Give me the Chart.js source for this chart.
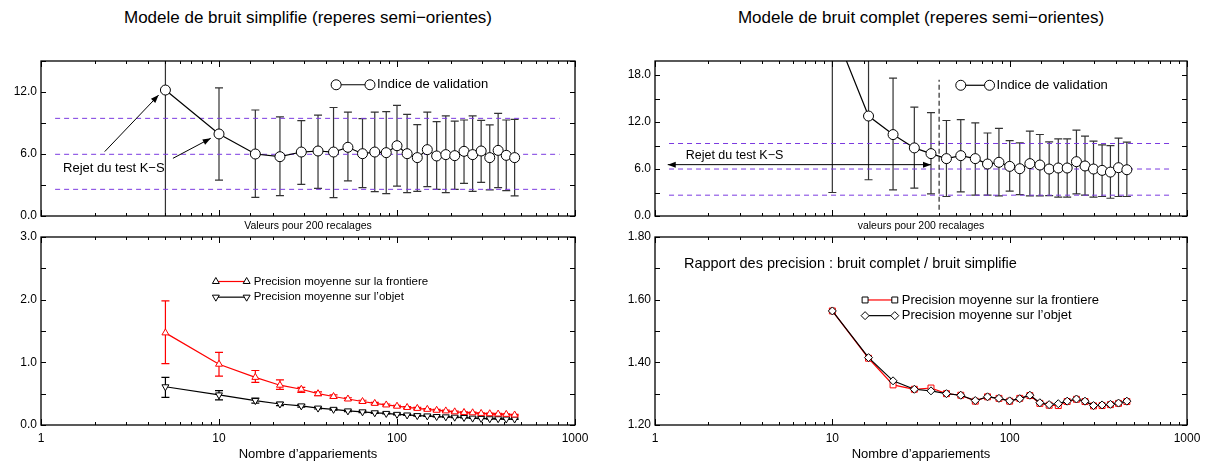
<!DOCTYPE html>
<html>
<head>
<meta charset="utf-8">
<script src="https://cdn.jsdelivr.net/npm/chart.js@4.4.1/dist/chart.umd.min.js"></script>
<style>
  body { margin: 0; background: #fff; width: 1211px; height: 465px; position: relative; overflow: hidden;
         font-family: "Liberation Sans", Arial, sans-serif; }
  .title { position: absolute; top: 9px; line-height: 18px; font-size: 17px; color: #000; text-align: center; white-space: nowrap; }
  canvas { position: absolute; }
</style>
</head>
<body>
<div class="title" style="left:41px;width:534px">Modele de bruit simplifie (reperes semi−orientes)</div>
<div class="title" style="left:655px;width:532px">Modele de bruit complet (reperes semi−orientes)</div>
<canvas id="tl" width="600" height="200" style="left:0;top:40px"></canvas>
<canvas id="tr" width="611" height="200" style="left:600px;top:40px"></canvas>
<canvas id="bl" width="600" height="240" style="left:0;top:225px"></canvas>
<canvas id="br" width="611" height="240" style="left:600px;top:225px"></canvas>
<script>
'use strict';

// x values (nombre d'appariements)
const nSimple  = [5, 10, 16, 22, 29, 36, 44, 53, 64, 75, 87, 100, 114, 130, 148, 167, 188, 211, 238, 266, 297, 332, 370, 411, 458];
const nComplet = [10, 16, 22, 29, 36, 44, 53, 64, 75, 87, 100, 114, 130, 148, 167, 188, 211, 238, 266, 297, 332, 370, 411, 458];

// Indice de validation, bruit simplifie
const validSimple   = [12.19, 7.94, 6.0, 5.74, 6.19, 6.29, 6.19, 6.65, 6.03, 6.19, 6.13, 6.8, 6.03, 5.65, 6.42, 5.81, 5.94, 5.84, 6.26, 5.94, 6.29, 5.65, 6.35, 5.87, 5.65];
const validSimpleLo = [-1, 3.48, 1.8, 1.97, 3.06, 2.68, 1.77, 3.39, 2.74, 2.35, 2.16, 2.9, 2.26, 2.39, 2.84, 2.58, 2.26, 2.58, 3.16, 2.39, 3.26, 2.52, 2.74, 2.45, 1.94];
const validSimpleHi = [16, 12.4, 10.26, 9.6, 9.23, 9.77, 10.5, 10.06, 9.42, 10.06, 10.1, 10.7, 9.84, 8.84, 10.06, 9.13, 9.68, 9.19, 9.29, 9.68, 9.26, 8.81, 9.94, 9.29, 9.35];
const refSimple = [9.45, 5.97, 2.58];

// Indice de validation, bruit complet
const validComplet   = [24.3, 12.77, 10.4, 8.7, 7.97, 7.33, 7.71, 7.33, 6.64, 6.86, 6.34, 6.04, 6.69, 6.51, 6.0, 6.13, 6.13, 6.94, 6.39, 6.0, 5.83, 5.61, 6.17, 5.91];
const validCompletLo = [3.0, 4.63, 3.34, 3.56, 2.83, 2.49, 3.09, 2.66, 2.66, 2.57, 3.17, 2.74, 2.57, 2.57, 2.61, 2.4, 2.4, 2.83, 2.66, 2.4, 2.49, 2.27, 2.49, 2.49];
const validCompletHi = [40, 21, 17.6, 13.9, 13.2, 12.2, 12.3, 11.9, 10.6, 11.2, 9.64, 9.34, 10.84, 10.41, 9.47, 9.86, 9.86, 10.97, 10.2, 9.56, 9.09, 9.0, 9.94, 9.43];
const refComplet = [9.26, 6.0, 2.66];

// Precision moyenne, bruit simplifie
const precFront   = [1.47, 0.97, 0.76, 0.635, 0.57, 0.50, 0.455, 0.415, 0.375, 0.345, 0.32, 0.30, 0.28, 0.265, 0.25, 0.235, 0.225, 0.21, 0.20, 0.195, 0.185, 0.18, 0.175, 0.17, 0.16];
const precFrontLo = [0.98, 0.78, 0.68, 0.57, 0.52, 0.47, 0.43, 0.395, 0.355, 0.33, 0.305, 0.285, 0.265, 0.25, 0.237, 0.222, 0.213, 0.199, 0.19, 0.185, 0.176, 0.171, 0.166, 0.161, 0.151];
const precFrontHi = [1.98, 1.16, 0.87, 0.72, 0.60, 0.53, 0.48, 0.435, 0.395, 0.36, 0.335, 0.315, 0.295, 0.28, 0.263, 0.248, 0.237, 0.221, 0.21, 0.205, 0.194, 0.189, 0.184, 0.179, 0.169];
const precObjet   = [0.61, 0.48, 0.39, 0.335, 0.305, 0.27, 0.25, 0.225, 0.21, 0.195, 0.185, 0.17, 0.16, 0.15, 0.145, 0.135, 0.13, 0.125, 0.12, 0.11, 0.105, 0.10, 0.10, 0.095, 0.095];
const precObjetLo = [0.44, 0.40, 0.35, 0.31, 0.285, 0.255, 0.237, 0.213, 0.199, 0.185, 0.176, 0.162, 0.152, 0.143, 0.138, 0.129, 0.124, 0.119, 0.114, 0.105, 0.1, 0.095, 0.095, 0.09, 0.09];
const precObjetHi = [0.76, 0.55, 0.43, 0.36, 0.325, 0.285, 0.263, 0.237, 0.221, 0.205, 0.194, 0.178, 0.168, 0.157, 0.152, 0.141, 0.136, 0.131, 0.126, 0.115, 0.11, 0.105, 0.105, 0.1, 0.1];

// Rapport complet / simplifie
const ratioFront = [1.564, 1.413, 1.328, 1.314, 1.318, 1.30, 1.295, 1.276, 1.29, 1.285, 1.276, 1.285, 1.294, 1.269, 1.263, 1.262, 1.275, 1.282, 1.275, 1.261, 1.262, 1.265, 1.269, 1.275];
const ratioObjet = [1.564, 1.415, 1.341, 1.314, 1.309, 1.30, 1.295, 1.278, 1.29, 1.285, 1.277, 1.284, 1.295, 1.271, 1.265, 1.268, 1.276, 1.283, 1.276, 1.262, 1.264, 1.266, 1.27, 1.276];

const xTickLabels = [1, 10, 100, 1000];

const FONT = '"Liberation Sans", Arial, sans-serif';
const PURPLE = '#7b3ae0';

function pts(xs, ys){ return xs.map((x, i) => ({x, y: ys[i]})); }

function refLines(levels){
  return levels.map(v => ({
    data: [{x: 1.2, y: v}, {x: 820, y: v}],
    borderColor: PURPLE, borderWidth: 1, borderDash: [5, 4], pointRadius: 0, order: 5
  }));
}

// error bars, drawn under the series
const errorBars = {
  id: 'errorBars',
  beforeDatasetsDraw(chart, args, opts){
    const ctx = chart.ctx, a = chart.chartArea, xs = chart.scales.x, ys = chart.scales.y;
    ctx.save();
    ctx.beginPath(); ctx.rect(a.left, a.top, a.right - a.left, a.bottom - a.top); ctx.clip();
    (opts.bars || []).forEach(b => {
      ctx.strokeStyle = b.color; ctx.lineWidth = 1.2;
      b.x.forEach((xv, i) => {
        const x = xs.getPixelForValue(xv);
        const y0 = ys.getPixelForValue(b.lo[i]), y1 = ys.getPixelForValue(b.hi[i]);
        ctx.beginPath();
        ctx.moveTo(x, y0); ctx.lineTo(x, y1);
        ctx.moveTo(x - b.cap, y0); ctx.lineTo(x + b.cap, y0);
        ctx.moveTo(x - b.cap, y1); ctx.lineTo(x + b.cap, y1);
        ctx.stroke();
      });
    });
    ctx.restore();
  }
};

function arrowHead(ctx, x0, y0, x1, y1){
  const a = Math.atan2(y1 - y0, x1 - x0), len = 8, w = 3;
  ctx.beginPath();
  ctx.moveTo(x1, y1);
  ctx.lineTo(x1 - len*Math.cos(a) + w*Math.sin(a), y1 - len*Math.sin(a) - w*Math.cos(a));
  ctx.lineTo(x1 - len*Math.cos(a) - w*Math.sin(a), y1 - len*Math.sin(a) + w*Math.cos(a));
  ctx.closePath(); ctx.fill();
}

// frame, inner ticks, legend and notes
const deco = {
  id: 'deco',
  afterDatasetsDraw(chart, args, opts){
    const ctx = chart.ctx, a = chart.chartArea, xs = chart.scales.x, ys = chart.scales.y;
    ctx.save();
    ctx.strokeStyle = '#000'; ctx.lineWidth = 1;
    ctx.beginPath();
    xs.ticks.forEach(t => {
      const lg = Math.log10(t.value);
      const L = Math.abs(lg - Math.round(lg)) < 1e-6 ? 6 : 3;
      const x = Math.round(xs.getPixelForValue(t.value)) + 0.5;
      ctx.moveTo(x, a.bottom); ctx.lineTo(x, a.bottom - L);
      ctx.moveTo(x, a.top); ctx.lineTo(x, a.top + L);
    });
    ys.ticks.forEach(t => {
      const r = t.value / opts.yStep;
      if (Math.abs(r - Math.round(r)) > 1e-6) return;
      const y = Math.round(ys.getPixelForValue(t.value)) + 0.5;
      ctx.moveTo(a.left, y); ctx.lineTo(a.left + 5, y);
      ctx.moveTo(a.right, y); ctx.lineTo(a.right - 5, y);
    });
    ctx.stroke();
    ctx.lineWidth = 1.3;
    ctx.strokeRect(a.left, a.top, a.right - a.left, a.bottom - a.top);

    // legend rows
    (opts.legend || []).forEach(row => {
      const x1 = xs.getPixelForValue(row.x1), x2 = xs.getPixelForValue(row.x2), y = ys.getPixelForValue(row.y);
      ctx.strokeStyle = row.lineColor; ctx.lineWidth = 1.2;
      ctx.beginPath(); ctx.moveTo(x1, y); ctx.lineTo(x2, y); ctx.stroke();
      ctx.fillStyle = '#fff'; ctx.strokeStyle = '#000'; ctx.lineWidth = 1;
      [x1, x2].forEach(x => Chart.helpers.drawPoint(ctx, {pointStyle: row.style, radius: row.r, rotation: row.rot || 0, borderWidth: 1}, x, y));
      ctx.fillStyle = '#000'; ctx.font = row.size + 'px ' + FONT;
      ctx.textBaseline = 'middle'; ctx.textAlign = 'left';
      ctx.fillText(row.text, x2 + 7, y);
    });

    // notes
    ctx.fillStyle = '#000'; ctx.strokeStyle = '#000'; ctx.lineWidth = 1;
    (opts.texts || []).forEach(t => {
      ctx.font = t.size + 'px ' + FONT; ctx.textBaseline = 'middle'; ctx.textAlign = 'left';
      ctx.fillText(t.text, xs.getPixelForValue(t.x), ys.getPixelForValue(t.y));
    });
    (opts.arrows || []).forEach(ar => {
      const x0 = xs.getPixelForValue(ar.from[0]), y0 = ys.getPixelForValue(ar.from[1]);
      const x1 = xs.getPixelForValue(ar.to[0]), y1 = ys.getPixelForValue(ar.to[1]);
      ctx.beginPath(); ctx.moveTo(x0, y0); ctx.lineTo(x1, y1); ctx.stroke();
      arrowHead(ctx, x0, y0, x1, y1);
      if (ar.both) arrowHead(ctx, x1, y1, x0, y0);
    });
    ctx.restore();
  }
};

function yAxis(min, max, step, labelStep, digits, width){
  return {
    type: 'linear', min, max,
    grid: {display: false, drawTicks: false}, border: {display: false},
    ticks: {
      stepSize: step, color: '#000', padding: 4, font: {family: FONT, size: 12},
      callback: v => { const r = v / labelStep; return Math.abs(r - Math.round(r)) < 1e-6 ? Number(v).toFixed(digits) : ''; }
    },
    afterFit: s => { s.width = width; }
  };
}

function xAxis(bottom, title){
  return {
    type: 'logarithmic', min: 1, max: 1000,
    grid: {display: false, drawTicks: false}, border: {display: false},
    ticks: {
      display: bottom, autoSkip: false, maxRotation: 0, color: '#000', padding: 6,
      font: {family: FONT, size: 12},
      callback: v => xTickLabels.includes(Number(v)) ? String(v) : ''
    },
    title: bottom
      ? {display: true, text: title, color: '#000', font: {family: FONT, size: 13}, padding: {top: 0, bottom: 3}}
      : {display: true, text: title, color: '#000', font: {family: FONT, size: 10.5}, padding: {top: 0, bottom: 8}},
    afterFit: s => { s.height = bottom ? 40 : 24; }
  };
}

const baseOpts = {responsive: false, animation: false, events: []};

function circleSeries(xs, ys){
  return {
    data: pts(xs, ys), borderColor: '#000', borderWidth: 1.2,
    pointStyle: 'circle', pointRadius: 5, pointBackgroundColor: '#fff', pointBorderColor: '#000', pointBorderWidth: 1, order: 0
  };
}

// top-left: indice de validation, bruit simplifie
new Chart(document.getElementById('tl'), {
  type: 'line',
  data: {datasets: [circleSeries(nSimple, validSimple), ...refLines(refSimple)]},
  options: {
    ...baseOpts,
    layout: {padding: {top: 21, right: 25, left: 0, bottom: 0}},
    scales: {x: xAxis(false, 'Valeurs pour 200 recalages'), y: yAxis(0, 15, 3, 6, 1, 41)},
    plugins: {
      legend: {display: false}, tooltip: {enabled: false},
      errorBars: {bars: [{x: nSimple, lo: validSimpleLo, hi: validSimpleHi, color: '#333', cap: 4}]},
      deco: {
        yStep: 3,
        legend: [{x1: 45.5, x2: 70.5, y: 12.7, style: 'circle', r: 5, lineColor: '#000', text: 'Indice de validation', size: 13}],
        texts: [{x: 1.33, y: 4.6, text: 'Rejet du test K−S', size: 13}],
        arrows: [{from: [2.28, 6.23], to: [4.58, 11.7]}, {from: [5.51, 5.58], to: [8.99, 7.52]}]
      }
    }
  },
  plugins: [errorBars, deco]
});

// top-right: indice de validation, bruit complet
new Chart(document.getElementById('tr'), {
  type: 'line',
  data: {datasets: [
    circleSeries(nComplet, validComplet),
    {data: [{x: 40, y: 0.8}, {x: 40, y: 17.4}], borderColor: '#000', borderWidth: 1, borderDash: [5, 3], pointRadius: 0, order: 4},
    ...refLines(refComplet)
  ]},
  options: {
    ...baseOpts,
    layout: {padding: {top: 21, right: 24, left: 0, bottom: 0}},
    scales: {x: xAxis(false, 'valeurs pour 200 recalages'), y: yAxis(0, 19.8, 3, 6, 1, 55)},
    plugins: {
      legend: {display: false}, tooltip: {enabled: false},
      errorBars: {bars: [{x: nComplet, lo: validCompletLo, hi: validCompletHi, color: '#333', cap: 4}]},
      deco: {
        yStep: 3,
        legend: [{x1: 53, x2: 77, y: 16.7, style: 'circle', r: 5, lineColor: '#000', text: 'Indice de validation', size: 13}],
        texts: [{x: 1.49, y: 7.7, text: 'Rejet du test K−S', size: 12.5}],
        arrows: [{from: [1.18, 6.56], to: [36, 6.56], both: true}]
      }
    }
  },
  plugins: [errorBars, deco]
});

// bottom-left: precision moyenne, bruit simplifie
new Chart(document.getElementById('bl'), {
  type: 'line',
  data: {datasets: [
    {data: pts(nSimple, precFront), borderColor: '#ff0000', borderWidth: 1.2, pointStyle: 'triangle', pointRadius: 4,
     pointBackgroundColor: '#fff', pointBorderColor: '#ff0000', pointBorderWidth: 1},
    {data: pts(nSimple, precObjet), borderColor: '#000', borderWidth: 1.2, pointStyle: 'triangle', pointRotation: 180, pointRadius: 4,
     pointBackgroundColor: '#fff', pointBorderColor: '#000', pointBorderWidth: 1}
  ]},
  options: {
    ...baseOpts,
    layout: {padding: {top: 12, right: 25, left: 0, bottom: 0}},
    scales: {x: xAxis(true, 'Nombre d’appariements'), y: yAxis(0, 3, 0.5, 1, 1, 41)},
    plugins: {
      legend: {display: false}, tooltip: {enabled: false},
      errorBars: {bars: [
        {x: nSimple, lo: precFrontLo, hi: precFrontHi, color: '#ff0000', cap: 4},
        {x: nSimple, lo: precObjetLo, hi: precObjetHi, color: '#000', cap: 4}
      ]},
      deco: {
        yStep: 0.5,
        legend: [
          {x1: 9.6, x2: 14.3, y: 2.29, style: 'triangle', r: 4, lineColor: '#ff0000', text: 'Precision moyenne sur la frontiere', size: 11.5},
          {x1: 9.6, x2: 14.3, y: 2.04, style: 'triangle', rot: 180, r: 4, lineColor: '#000', text: 'Precision moyenne sur l’objet', size: 11.5}
        ]
      }
    }
  },
  plugins: [errorBars, deco]
});

// bottom-right: rapport des precisions
new Chart(document.getElementById('br'), {
  type: 'line',
  data: {datasets: [
    {data: pts(nComplet, ratioObjet), borderColor: '#000', borderWidth: 1.2, pointStyle: 'rectRot', pointRadius: 4,
     pointBackgroundColor: '#fff', pointBorderColor: '#000', pointBorderWidth: 1, order: 0},
    {data: pts(nComplet, ratioFront), borderColor: '#ff0000', borderWidth: 1.2, pointStyle: 'rect', pointRadius: 4.2,
     pointBackgroundColor: '#fff', pointBorderColor: '#ff0000', pointBorderWidth: 1, order: 1}
  ]},
  options: {
    ...baseOpts,
    layout: {padding: {top: 12, right: 24, left: 0, bottom: 0}},
    scales: {x: xAxis(true, 'Nombre d’appariements'), y: yAxis(1.2, 1.8, 0.1, 0.2, 2, 55)},
    plugins: {
      legend: {display: false}, tooltip: {enabled: false},
      deco: {
        yStep: 0.1,
        legend: [
          {x1: 15.3, x2: 22.5, y: 1.599, style: 'rect', r: 4.2, lineColor: '#ff0000', text: 'Precision moyenne sur la frontiere', size: 13},
          {x1: 15.3, x2: 22.5, y: 1.549, style: 'rectRot', r: 4, lineColor: '#000', text: 'Precision moyenne sur l’objet', size: 13}
        ],
        texts: [{x: 1.456, y: 1.714, text: 'Rapport des precision : bruit complet / bruit simplifie', size: 14.5}]
      }
    }
  },
  plugins: [deco]
});
</script>
</body>
</html>
